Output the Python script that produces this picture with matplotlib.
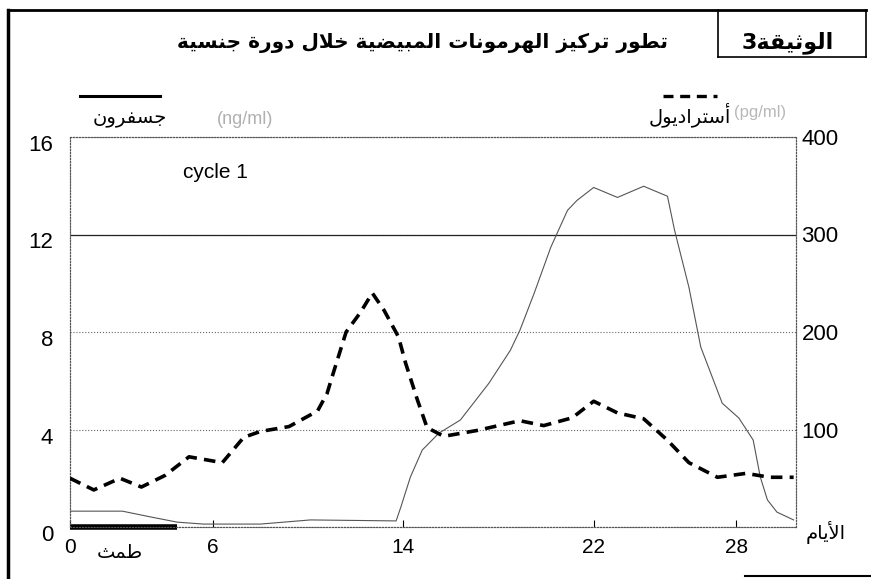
import matplotlib
matplotlib.use("Agg")
import matplotlib.pyplot as plt
from matplotlib.lines import Line2D
from matplotlib import font_manager
import matplotlib.transforms as mtransforms

# -----------------------------
# Data read from the document
# -----------------------------
# progesterone (ng/ml), left axis
prog_days = [0.0, 2.2, 3.4, 4.5, 5.6, 8.0, 10.1, 13.7, 13.9, 14.3, 14.8, 15.5,
             16.4, 17.6, 18.5, 18.9, 19.5, 20.2, 20.9, 21.3, 22.0, 23.0, 24.1,
             25.1, 25.4, 26.0, 26.5, 27.4, 28.1, 28.7, 29.0, 29.3, 29.7, 30.4]
prog_vals = [0.65, 0.65, 0.41, 0.2, 0.12, 0.12, 0.29, 0.25, 0.82, 2.05, 3.16, 3.85,
             4.39, 5.9, 7.25, 8.07, 9.59, 11.48, 12.99, 13.4, 13.93, 13.52, 13.98,
             13.57, 12.17, 9.84, 7.38, 5.08, 4.47, 3.57, 2.05, 1.11, 0.61, 0.29]

# estradiol (pg/ml), right axis
estr_days = [0.0, 1.0, 2.1, 3.0, 4.0, 5.0, 6.4, 7.3, 8.0, 9.2, 10.4, 10.8, 11.1,
             11.6, 12.2, 12.7, 13.2, 13.8, 14.1, 14.6, 15.0, 15.7, 17.1, 18.9,
             19.9, 21.1, 22.0, 23.0, 24.1, 25.1, 26.0, 27.2, 28.4, 29.4, 30.4]
estr_vals = [50, 38, 50, 41, 53, 72, 66, 92, 98, 103, 119, 137, 161,
             200, 220, 240, 222, 195, 168, 130, 102, 93, 99, 109,
             104, 112, 129, 117, 111, 89, 66, 51, 55, 51, 51]

menses_start, menses_end = 0.0, 4.5

x_ticks = [0, 6, 14, 22, 28]
left_ticks = [0, 4, 8, 12, 16]
right_ticks = [100, 200, 300, 400]

# -----------------------------
# Minimal Arabic shaping (matplotlib has no bidi / joining)
# -----------------------------
FORMS = {
    'ا': (0xFE8D, 0xFE8E, None, None), 'أ': (0xFE83, 0xFE84, None, None),
    'ب': (0xFE8F, 0xFE90, 0xFE91, 0xFE92), 'ة': (0xFE93, 0xFE94, None, None),
    'ت': (0xFE95, 0xFE96, 0xFE97, 0xFE98), 'ث': (0xFE99, 0xFE9A, 0xFE9B, 0xFE9C),
    'ج': (0xFE9D, 0xFE9E, 0xFE9F, 0xFEA0), 'خ': (0xFEA5, 0xFEA6, 0xFEA7, 0xFEA8),
    'د': (0xFEA9, 0xFEAA, None, None), 'ر': (0xFEAD, 0xFEAE, None, None),
    'ز': (0xFEAF, 0xFEB0, None, None), 'س': (0xFEB1, 0xFEB2, 0xFEB3, 0xFEB4),
    'ض': (0xFEBD, 0xFEBE, 0xFEBF, 0xFEC0), 'ط': (0xFEC1, 0xFEC2, 0xFEC3, 0xFEC4),
    'ف': (0xFED1, 0xFED2, 0xFED3, 0xFED4), 'ق': (0xFED5, 0xFED6, 0xFED7, 0xFED8),
    'ك': (0xFED9, 0xFEDA, 0xFEDB, 0xFEDC), 'ل': (0xFEDD, 0xFEDE, 0xFEDF, 0xFEE0),
    'م': (0xFEE1, 0xFEE2, 0xFEE3, 0xFEE4), 'ن': (0xFEE5, 0xFEE6, 0xFEE7, 0xFEE8),
    'ه': (0xFEE9, 0xFEEA, 0xFEEB, 0xFEEC), 'و': (0xFEED, 0xFEEE, None, None),
    'ي': (0xFEF1, 0xFEF2, 0xFEF3, 0xFEF4),
}
LAM_ALEF = {'ا': (0xFEFB, 0xFEFC), 'أ': (0xFEF7, 0xFEF8)}


def shape(text):
    out = []
    i, n = 0, len(text)
    while i < n:
        c = text[i]
        if c not in FORMS:
            out.append(c)
            i += 1
            continue
        prev = text[i - 1] if i > 0 else ''
        joins_prev = prev in FORMS and FORMS[prev][2] is not None
        if c == 'ل' and i + 1 < n and text[i + 1] in LAM_ALEF:
            out.append(chr(LAM_ALEF[text[i + 1]][1 if joins_prev else 0]))
            i += 2
            continue
        nxt = text[i + 1] if i + 1 < n else ''
        iso, fin, ini, med = FORMS[c]
        joins_next = ini is not None and nxt in FORMS
        if joins_prev and joins_next:
            g = med
        elif joins_prev:
            g = fin
        elif joins_next:
            g = ini
        else:
            g = iso
        out.append(chr(g))
        i += 1
    return ''.join(out)


def ar(text):
    return shape(text)[::-1]


names = {f.name for f in font_manager.fontManager.ttflist}
num_font = 'Liberation Sans Narrow' if 'Liberation Sans Narrow' in names else 'Liberation Sans'
ar_font = 'DejaVu Sans'

# -----------------------------
# Figure
# -----------------------------
W, H = 871, 579
fig = plt.figure(figsize=(W / 100, H / 100), dpi=100)


def fx(x):
    return x / W


def fy(y):
    return 1 - y / H


ax = fig.add_axes([fx(70), fy(527), (796 - 70) / W, (527 - 137) / H])
ax2 = ax.twinx()

# progesterone: thin line
ax.plot(prog_days, prog_vals, color='#555555', lw=0.8, zorder=3)

# estradiol: heavy dashes
ax2.plot(estr_days, estr_vals, color='black', lw=2.6, dashes=(3.2, 2), zorder=4)

# menstruation bar on the axis
ax.plot([menses_start, menses_end], [0, 0], color='black', lw=4,
        solid_capstyle='butt', clip_on=False, zorder=5)

ax.set_xlim(0, 30.5)
ax.set_ylim(0, 16)
ax2.set_ylim(0, 400)

ax.set_xticks(x_ticks)
ax.set_yticks(left_ticks)
ax2.set_yticks(right_ticks)

ax.grid(axis='y', linestyle=':', color='#666666', lw=0.8)
ax.axhline(12, color='#222222', lw=0.9, zorder=2)

for a in (ax, ax2):
    for s in a.spines.values():
        s.set_linestyle(':')
        s.set_color('#555555')
        s.set_linewidth(0.8)

ax.tick_params(axis='x', direction='in', length=5, width=0.8, pad=8,
               labelsize=15)
ax.tick_params(axis='y', length=0, pad=12, labelsize=16)
ax2.tick_params(axis='y', length=0, pad=4, labelsize=16)
for lab in ax.get_xticklabels() + ax.get_yticklabels() + ax2.get_yticklabels():
    lab.set_fontfamily(num_font)
shift = mtransforms.ScaledTranslation(0, -6 / 100, fig.dpi_scale_trans)
for lab in ax.get_yticklabels():
    lab.set_transform(lab.get_transform() + shift)

# texts
fig.text(fx(422), fy(43), ar('تطور تركيز الهرمونات المبيضية خلال دورة جنسية'),
         ha='center', va='center', fontsize=14.5, fontweight='bold', family=ar_font)
fig.text(fx(788), fy(43), '3' + ar('الوثيقة'),
         ha='center', va='center', fontsize=16, fontweight='bold', family=ar_font)
fig.text(fx(130), fy(119), ar('جسفرون'), ha='center', va='center',
         fontsize=14, family=ar_font)
fig.text(fx(245), fy(119), '(ng/ml)', ha='center', va='center',
         fontsize=13, color='#b0b0b0', family=num_font)
fig.text(fx(690), fy(115), ar('أستراديول'), ha='center', va='center',
         fontsize=14, family=ar_font)
fig.text(fx(760), fy(112), '(pg/ml)', ha='center', va='center',
         fontsize=12, color='#b8b8b8', family=num_font)
fig.text(fx(215), fy(173), 'cycle 1', ha='center', va='center',
         fontsize=15, family='Liberation Sans')
fig.text(fx(120), fy(552), ar('طمث'), ha='center', va='center',
         fontsize=14, family=ar_font)
fig.text(fx(826), fy(532), ar('الأيام'), ha='center', va='center',
         fontsize=14, family=ar_font)

# legend symbols above the axis names
fig.add_artist(Line2D([fx(80), fx(160)], [fy(96), fy(96)], color='black', lw=2.2))
fig.add_artist(Line2D([fx(663), fx(717)], [fy(96), fy(96)], color='black', lw=2.4,
                      dashes=(3, 2)))

# page frame and document box
frame = [
    ([8, 8], [10, 579], 2.5),
    ([8, 866], [10, 10], 2.0),
    ([718, 718], [10, 57], 1.2),
    ([866, 866], [10, 57], 1.2),
    ([718, 866], [57, 57], 1.2),
    ([745, 871], [576, 576], 1.5),
]
for xs, ys, w in frame:
    fig.add_artist(Line2D([fx(v) for v in xs], [fy(v) for v in ys],
                          color='black', lw=w))

fig.savefig('out.png', dpi=100)
